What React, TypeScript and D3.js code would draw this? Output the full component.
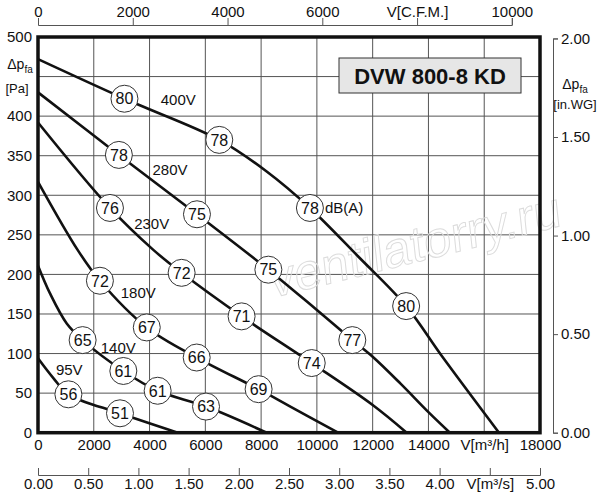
import { useEffect, useRef } from 'react';
import * as d3 from 'd3';

// Fan curves: flow V [m3/h] and static pressure dp_fa [Pa]
const voltages = ['400V', '280V', '230V', '180V', '140V', '95V'];

const q400 = [0, 3100, 6500, 8200, 9750, 11500, 13200, 14500, 16530];
const p400 = [472, 422, 370, 330, 284, 222, 160, 96, 0];

const q280 = [0, 2900, 5700, 8260, 10000, 11270, 12000, 13000, 14000, 14770];
const p280 = [430, 351, 276, 206, 155, 117, 96, 62, 26, 0];

const q230 = [0, 2580, 4135, 5150, 7300, 9815, 12000, 13220];
const p230 = [392, 284, 231, 202, 147, 88, 35, 0];

const q180 = [0, 1420, 2220, 3900, 5690, 7910, 9000, 10760];
const p180 = [317, 231, 192, 133, 95, 55, 34, 0];

const q140 = [0, 430, 1030, 1600, 3060, 4290, 6025, 8200];
const p140 = [211, 176, 138, 117, 78, 53, 33, 0];

const q95 = [0, 550, 1090, 2940, 5010];
const p95 = [94, 69, 48.5, 24.5, 0];

// sound power level markers [m3/h, Pa, dB(A)]
const snd400 = [[3100, 422, 80], [6500, 370, 78], [9750, 284, 78], [13200, 160, 80]];
const snd280 = [[2900, 351, 78], [5700, 276, 75], [8260, 206, 75], [11270, 117, 77]];
const snd230 = [[2580, 284, 76], [5150, 202, 72], [7300, 147, 71], [9815, 88, 74]];
const snd180 = [[2220, 192, 72], [3900, 133, 67], [5690, 95, 66], [7910, 55, 69]];
const snd140 = [[1600, 117, 65], [3060, 78, 61], [4290, 53, 61], [6025, 33, 63]];
const snd95 = [[1090, 48.5, 56], [2940, 24.5, 51]];

// where the voltage names sit, in chart units
const voltQ = [5030, 4733, 4077, 3597, 2880, 1122];
const voltP = [421, 332, 264, 177, 107, 80];

const flowTicks = [0, 2000, 4000, 6000, 8000, 10000, 12000, 14000, 16000, 18000];
const paGrid = [0, 50, 100, 150, 200, 250, 300, 350, 400, 450, 500];
const paLabels = [0, 50, 100, 150, 200, 250, 300, 350, 400, 500]; // 450 gives way to the axis name
const cfmTicks = [0, 2000, 4000, 6000, 8000, 10000];
const m3sTicks = [0, 0.5, 1, 1.5, 2, 2.5, 3, 3.5, 4, 4.5, 5];
const inwgTicks = [0, 0.5, 1, 1.5, 2];

const title = 'DVW 800-8 KD';
const M3H_PER_CFM = 1.699;
const PA_PER_INWG = 249.09;
const FONT = '"Liberation Sans", Arial, sans-serif';

function FanChart() {
  const svgRef = useRef<SVGSVGElement>(null);

  useEffect(() => {
    if (!svgRef.current) return;
    const svg = d3.select(svgRef.current);
    svg.selectAll('*').remove();

    const left = 38, right = 540, top = 37, bottom = 432.7;

    const x = d3.scaleLinear().domain([0, 18000]).range([left, right]);
    const y = d3.scaleLinear().domain([0, 500]).range([bottom, top]);
    const xCfm = d3.scaleLinear().domain([0, 10000]).range([left, x(10000 * M3H_PER_CFM)]);
    const xM3s = d3.scaleLinear().domain([0, 5]).range([left, right]);
    const yIn = d3.scaleLinear().domain([0, 2]).range([bottom, y(2 * PA_PER_INWG)]);

    svg.style('font-family', FONT);

    // grid
    const grid = svg.append('g').attr('stroke', '#555').attr('stroke-width', 1);
    grid.selectAll('line.v')
      .data(flowTicks.slice(1, -1))
      .enter().append('line')
      .attr('x1', d => x(d)).attr('x2', d => x(d))
      .attr('y1', top).attr('y2', bottom);
    grid.selectAll('line.h')
      .data(paGrid.slice(1, -1))
      .enter().append('line')
      .attr('x1', left).attr('x2', right)
      .attr('y1', d => y(d)).attr('y2', d => y(d));

    // watermark
    svg.append('text')
      .attr('transform', 'translate(272,298) rotate(-14) skewX(-8)')
      .attr('fill', 'none')
      .attr('stroke', '#dcdcdc')
      .attr('stroke-width', 1)
      .style('font-size', '50px')
      .text('ventilatorry.ru');

    // title box
    svg.append('rect')
      .attr('x', 339).attr('y', 58).attr('width', 182).attr('height', 35)
      .attr('fill', '#e6e6e6').attr('stroke', '#333').attr('stroke-width', 1);
    svg.append('text')
      .attr('x', 430).attr('y', 76).attr('dy', '0.36em')
      .attr('text-anchor', 'middle')
      .style('font-size', '22px').style('font-weight', 'bold')
      .attr('fill', '#111')
      .text(title);

    // curves
    const series = [
      { q: q400, p: p400, s: snd400 },
      { q: q280, p: p280, s: snd280 },
      { q: q230, p: p230, s: snd230 },
      { q: q180, p: p180, s: snd180 },
      { q: q140, p: p140, s: snd140 },
      { q: q95, p: p95, s: snd95 },
    ];

    const line = d3.line<[number, number]>()
      .x(d => x(d[0]))
      .y(d => y(d[1]))
      .curve(d3.curveCatmullRom.alpha(0.5));

    series.forEach(sr => {
      const pts = sr.q.map((q, i) => [q, sr.p[i]] as [number, number]);
      svg.append('path')
        .attr('d', line(pts))
        .attr('fill', 'none')
        .attr('stroke', '#111')
        .attr('stroke-width', 2.6);
    });

    // voltage names
    voltages.forEach((v, i) => {
      svg.append('text')
        .attr('x', x(voltQ[i])).attr('y', y(voltP[i])).attr('dy', '0.36em')
        .attr('text-anchor', 'middle')
        .style('font-size', '15px')
        .attr('fill', '#111')
        .text(v);
    });

    // dB(A) markers
    const r = 13.5;
    series.forEach(sr => {
      const g = svg.append('g');
      const m = g.selectAll('g')
        .data(sr.s)
        .enter().append('g')
        .attr('transform', d => `translate(${x(d[0])},${y(d[1])})`);
      m.append('circle')
        .attr('r', r)
        .attr('fill', 'white')
        .attr('stroke', '#333')
        .attr('stroke-width', 1);
      m.append('text')
        .attr('text-anchor', 'middle')
        .attr('dy', '0.36em')
        .style('font-size', '16px')
        .attr('fill', '#111')
        .text(d => d[2]);
    });
    svg.append('text')
      .attr('x', x(snd400[2][0]) + r + 1.5)
      .attr('y', y(snd400[2][1]))
      .attr('dy', '0.36em')
      .style('font-size', '15px')
      .attr('fill', '#111')
      .text('dB(A)');

    // frame
    svg.append('rect')
      .attr('x', left).attr('y', top)
      .attr('width', right - left).attr('height', bottom - top)
      .attr('fill', 'none').attr('stroke', '#111').attr('stroke-width', 3.5);

    const styleAxis = (g: d3.Selection<SVGGElement, unknown, null, undefined>) => {
      g.selectAll('text')
        .style('font-size', '15px')
        .style('font-family', FONT)
        .attr('fill', '#111');
      g.selectAll('path, line').attr('stroke', '#555');
    };

    // left Pa labels
    const ay = svg.append('g')
      .attr('transform', `translate(${left},0)`)
      .call(d3.axisLeft(y).tickValues(paLabels).tickSize(0).tickPadding(6));
    ay.select('.domain').remove();
    styleAxis(ay);

    // bottom m3/h labels
    const ax = svg.append('g')
      .attr('transform', `translate(0,${bottom})`)
      .call(d3.axisBottom(x).tickValues(flowTicks).tickSize(0).tickPadding(7)
        .tickFormat(d => (+d === 16000 ? 'V[m³/h]' : String(d))));
    ax.select('.domain').remove();
    styleAxis(ax);

    // top CFM axis
    const ac = svg.append('g')
      .attr('transform', 'translate(0,25)')
      .call(d3.axisTop(xCfm).tickValues(cfmTicks).tickSize(7).tickPadding(1)
        .tickFormat(d => (+d === 8000 ? 'V[C.F.M.]' : String(d))));
    styleAxis(ac);

    // bottom m3/s axis
    const as = svg.append('g')
      .attr('transform', 'translate(0,475)')
      .call(d3.axisBottom(xM3s).tickValues(m3sTicks).tickSize(-7).tickPadding(3)
        .tickFormat(d => (+d === 4.5 ? 'V[m³/s]' : d3.format('.2f')(+d))));
    styleAxis(as);

    // right in.WG axis
    const ar = svg.append('g')
      .attr('transform', 'translate(553,0)')
      .call(d3.axisRight(yIn).tickValues(inwgTicks).tickSize(5).tickPadding(3)
        .tickFormat(d => d3.format('.2f')(+d)));
    styleAxis(ar);

    // axis names
    const leftName = svg.append('text')
      .attr('x', 20).attr('y', 69)
      .attr('text-anchor', 'middle')
      .style('font-size', '14px')
      .attr('fill', '#111');
    leftName.append('tspan').text('Δp');
    leftName.append('tspan').attr('dy', 4).style('font-size', '10px').text('fa');
    svg.append('text')
      .attr('x', 17).attr('y', 88).attr('dy', '0.36em')
      .attr('text-anchor', 'middle')
      .style('font-size', '13px')
      .attr('fill', '#111')
      .text('[Pa]');

    const rightName = svg.append('text')
      .attr('x', 575).attr('y', 89)
      .attr('text-anchor', 'middle')
      .style('font-size', '14px')
      .attr('fill', '#111');
    rightName.append('tspan').text('Δp');
    rightName.append('tspan').attr('dy', 4).style('font-size', '10px').text('fa');
    svg.append('text')
      .attr('x', 575).attr('y', 104).attr('dy', '0.36em')
      .attr('text-anchor', 'middle')
      .style('font-size', '13px')
      .attr('fill', '#111')
      .text('[in.WG]');
  }, []);

  return (
    <svg
      ref={svgRef}
      width={600}
      height={500}
      viewBox="0 0 600 500"
      style={{ position: 'absolute', left: 0, top: 0, background: 'white' }}
    />
  );
}

export default function App() {
  return <FanChart />;
}
